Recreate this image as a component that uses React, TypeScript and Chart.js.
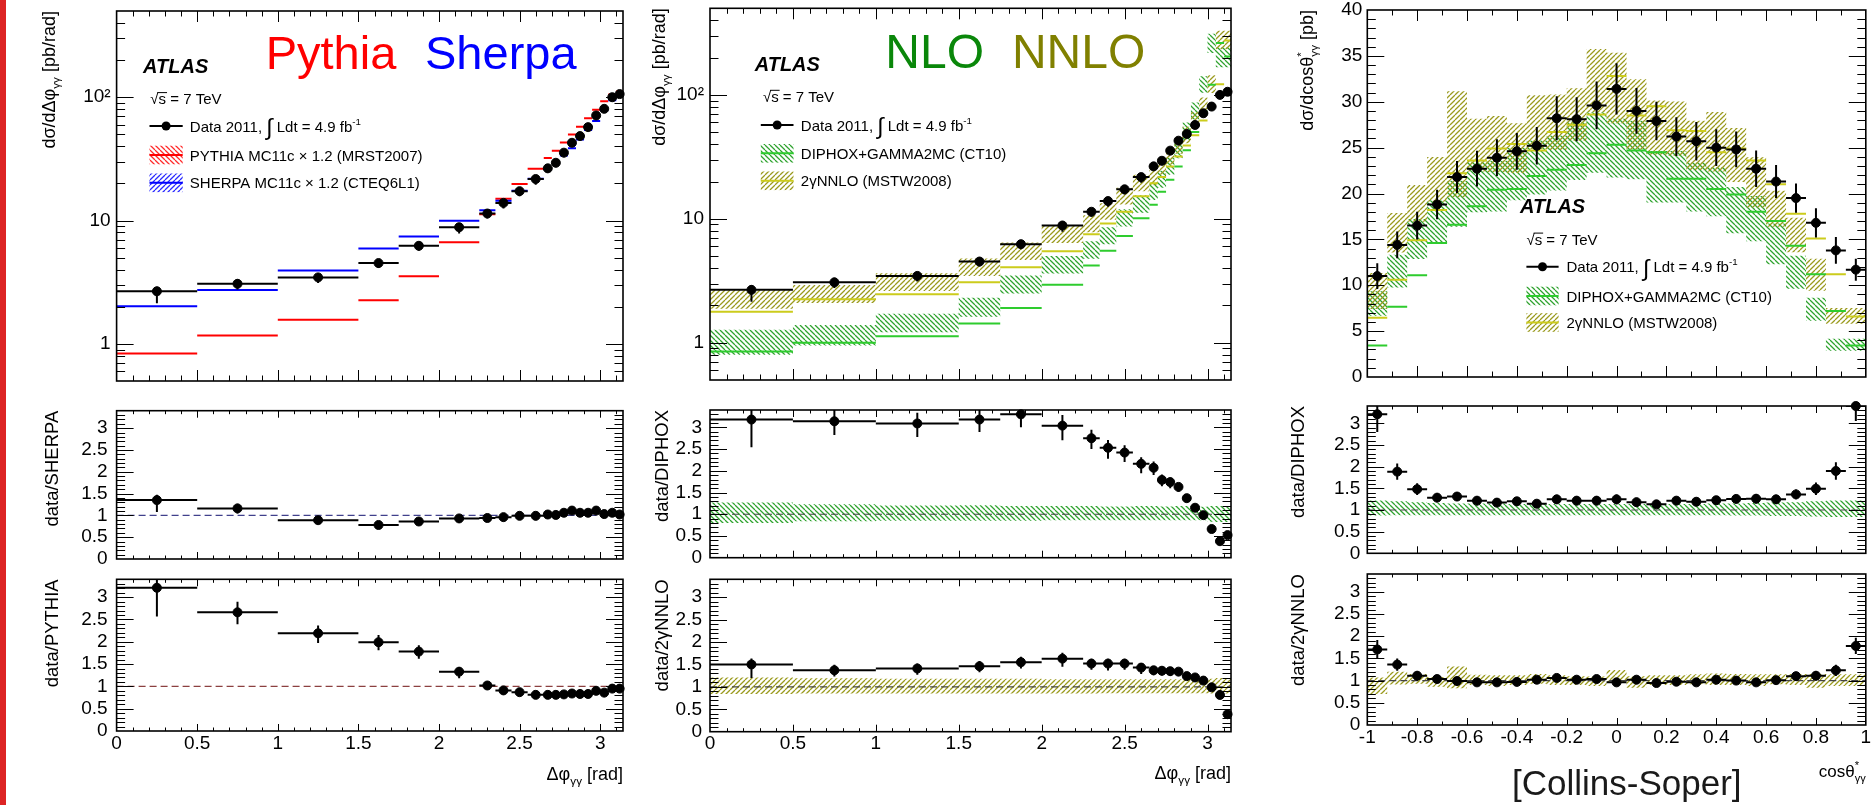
import { useEffect, useRef } from 'react';
import { Chart, registerables } from 'chart.js';

Chart.register(...registerables);

const W = 1876;
const H = 805;
const FONT = '"Liberation Sans", Arial, Helvetica, sans-serif';

// ---------- Δφγγ distribution (bin edges in rad) ----------
const phiEdges = [0, 0.5, 1, 1.5, 1.75, 2, 2.25, 2.35, 2.45, 2.55, 2.65, 2.7, 2.75, 2.8, 2.85, 2.9, 2.95, 3.0, 3.05, 3.1, Math.PI];
const phiData = [2.67, 3.07, 3.46, 4.52, 6.24, 8.83, 11.4, 13.9, 17.3, 21.7, 26.5, 29.4, 35.5, 42.7, 48.4, 57.2, 71.1, 80.5, 100, 106];
const phiErrUp = [0.09, 0.09, 0.08, 0.08, 0.08, 0.08, 0.07, 0.07, 0.07, 0.07, 0.07, 0.07, 0.06, 0.06, 0.06, 0.06, 0.06, 0.06, 0.06, 0.06];
const phiErrDn = [0.2, 0.1, 0.1, 0.09, 0.09, 0.11, 0.09, 0.1, 0.09, 0.1, 0.08, 0.08, 0.08, 0.07, 0.07, 0.07, 0.07, 0.07, 0.07, 0.07];
const phiPythia = [0.835, 1.17, 1.57, 2.26, 3.53, 6.68, 11.25, 15.0, 19.8, 26.3, 32.1, 36.8, 43.0, 49.9, 57.5, 67.6, 79.0, 92.9, 105, 112];
const phiSherpa = [2.02, 2.73, 3.94, 5.94, 7.42, 9.94, 12.1, 14.5, 17.4, 21.8, 26.0, 29.1, 33.6, 38.5, 45.5, 54.1, 64.0, 78.5, 94.6, 104];
const phiDiphox = [0.85, 1.0, 1.13, 1.43, 1.91, 2.93, 4.2, 5.53, 7.25, 10.1, 13.0, 16.5, 20.7, 26.4, 35.8, 50.2, 73.5, 121, 262, 204];
const phiNnlo = [1.78, 2.24, 2.46, 3.08, 4.06, 5.46, 7.52, 9.15, 11.4, 15.2, 19.4, 21.7, 26.4, 31.8, 39.0, 47.3, 62.2, 81.5, 122, 275];
const phiDiphoxUp = [0.32, 0.27, 0.23, 0.2, 0.21, 0.19, 0.19, 0.19, 0.18, 0.18, 0.19, 0.19, 0.18, 0.18, 0.19, 0.19, 0.18, 0.17, 0.19, 0.19];
const phiDiphoxDn = [0.24, 0.2, 0.16, 0.15, 0.15, 0.15, 0.14, 0.14, 0.14, 0.14, 0.14, 0.14, 0.14, 0.14, 0.14, 0.14, 0.14, 0.14, 0.17, 0.18];
const phiNnloUp = [0.22, 0.21, 0.19, 0.18, 0.18, 0.18, 0.17, 0.17, 0.17, 0.17, 0.17, 0.17, 0.17, 0.17, 0.17, 0.17, 0.17, 0.17, 0.18, 0.2];
const phiNnloDn = [0.22, 0.16, 0.15, 0.15, 0.15, 0.15, 0.15, 0.15, 0.14, 0.14, 0.14, 0.14, 0.14, 0.14, 0.14, 0.14, 0.14, 0.14, 0.15, 0.15];
const phiRatioSherpa = [1.35, 1.16, 0.89, 0.78, 0.86, 0.93, 0.94, 0.96, 0.99, 0.99, 1.02, 1.01, 1.06, 1.11, 1.06, 1.06, 1.11, 1.03, 1.06, 1.02];
const phiRatioPythia = [3.21, 2.66, 2.19, 1.99, 1.78, 1.33, 1.02, 0.91, 0.87, 0.81, 0.81, 0.81, 0.82, 0.84, 0.83, 0.83, 0.9, 0.86, 0.95, 0.95];
const phiRatioDiphox = [3.18, 3.14, 3.09, 3.18, 3.3, 3.04, 2.75, 2.53, 2.42, 2.16, 2.07, 1.79, 1.74, 1.63, 1.37, 1.15, 0.98, 0.66, 0.38, 0.52];
const phiRatioNnlo = [1.5, 1.37, 1.41, 1.46, 1.55, 1.63, 1.52, 1.52, 1.52, 1.43, 1.37, 1.36, 1.35, 1.34, 1.24, 1.21, 1.14, 0.99, 0.82, 0.39];

// ---------- cosθ*γγ distribution (Collins-Soper frame) ----------
const cosEdges = [-1, -0.92, -0.84, -0.76, -0.68, -0.6, -0.52, -0.44, -0.36, -0.28, -0.2, -0.12, -0.04, 0.04, 0.12, 0.2, 0.28, 0.36, 0.44, 0.52, 0.6, 0.68, 0.76, 0.84, 0.92, 1];
const cosData = [11.0, 14.4, 16.5, 18.8, 21.8, 22.7, 23.9, 24.6, 25.2, 28.2, 28.1, 29.6, 31.4, 29.0, 27.9, 26.2, 25.7, 25.0, 24.8, 22.7, 21.3, 19.5, 16.8, 13.8, 11.7];
const cosErr = [1.4, 1.45, 1.5, 1.6, 1.75, 1.95, 2.0, 2.0, 2.05, 2.4, 2.4, 2.6, 2.8, 2.5, 2.1, 2.1, 2.1, 2.0, 1.95, 2.0, 1.8, 1.6, 1.6, 1.45, 1.2];
const cosDiphox = [3.43, 7.66, 11.1, 14.6, 16.6, 18.6, 20.4, 20.5, 21.9, 22.6, 23.1, 24.4, 25.3, 24.7, 24.5, 21.6, 21.6, 20.5, 19.9, 18.0, 17.0, 14.3, 11.2, 7.2, 3.42];
const cosNnlo = [6.47, 10.6, 14.9, 18.2, 22.2, 23.6, 24.9, 25.4, 24.7, 26.7, 27.5, 28.6, 32.8, 28.5, 29.5, 26.9, 26.8, 24.5, 24.9, 23.6, 21.0, 17.8, 15.1, 11.2, 6.6];
const cosDiphoxUp = [0.22, 0.22, 0.2, 0.18, 0.16, 0.15, 0.15, 0.15, 0.14, 0.14, 0.14, 0.14, 0.14, 0.14, 0.14, 0.14, 0.14, 0.14, 0.15, 0.15, 0.16, 0.17, 0.18, 0.2, 0.22];
const cosDiphoxDn = [0.14, 0.13, 0.12, 0.12, 0.12, 0.12, 0.12, 0.12, 0.12, 0.12, 0.12, 0.12, 0.12, 0.12, 0.12, 0.12, 0.12, 0.12, 0.12, 0.13, 0.13, 0.14, 0.14, 0.15, 0.16];
const cosNnloUp = [0.17, 0.07, 0.2, 0.15, 0.08, 0.32, 0.13, 0.12, 0.12, 0.15, 0.12, 0.1, 0.09, 0.24, 0.1, 0.12, 0.12, 0.14, 0.16, 0.15, 0.14, 0.14, 0.15, 0.15, 0.14];
const cosNnloDn = [0.13, 0.3, 0.09, 0.07, 0.14, 0.17, 0.1, 0.12, 0.1, 0.07, 0.1, 0.1, 0.12, 0.03, 0.16, 0.1, 0.1, 0.08, 0.1, 0.1, 0.12, 0.08, 0.1, 0.16, 0.12];
const cosRatioDiphox = [3.21, 1.885, 1.48, 1.285, 1.31, 1.215, 1.17, 1.2, 1.145, 1.245, 1.215, 1.215, 1.245, 1.18, 1.13, 1.215, 1.19, 1.225, 1.255, 1.26, 1.245, 1.36, 1.49, 1.9, 3.4];
const cosRatioNnlo = [1.7, 1.36, 1.11, 1.035, 0.99, 0.96, 0.96, 0.97, 1.02, 1.06, 1.02, 1.035, 0.96, 1.02, 0.945, 0.975, 0.96, 1.02, 1.0, 0.96, 1.01, 1.1, 1.11, 1.23, 1.78];

// ---------- tick values and labels ----------
const phiTicks = [0, 0.5, 1, 1.5, 2, 2.5, 3];
const cosTicks = [-1, -0.8, -0.6, -0.4, -0.2, 0, 0.2, 0.4, 0.6, 0.8, 1];
const ratioTicks = [0, 0.5, 1, 1.5, 2, 2.5, 3];
const logTicks = [1, 10, 100];
const logTickLabels = ['1', '10', '10²'];
const xsecTicks = [0, 5, 10, 15, 20, 25, 30, 35, 40];
const logMinor = [0.6, 0.7, 0.8, 0.9, 2, 3, 4, 5, 6, 7, 8, 9, 20, 30, 40, 50, 60, 70, 80, 90, 200, 300, 400];

const range = (a: number, b: number, step: number) => {
  const out: number[] = [];
  for (let k = 0; a + k * step <= b + 1e-9; k++) out.push(+(a + k * step).toFixed(4));
  return out;
};
const phiMinor = range(0, 3.1, 0.1);
const cosMinor = range(-1, 1, 0.1);
const ratioMinor = range(0, 3.4, 0.1);
const xsecMinor = range(0, 40, 1);

const COL = {
  pythia: '#ff0000',
  sherpa: '#0000ff',
  diphox: '#2ecc2e',
  diphoxHatch: '#2fa32f',
  nnlo: '#cccc1c',
  nnloHatch: '#9a9a1e',
  nloText: '#0a870a',
  nnloText: '#808000',
};

// ---------- plot frames (page pixels) ----------
type Rect = { l: number; r: number; t: number; b: number };
const R11: Rect = { l: 116.6, r: 623, t: 11, b: 381 };
const R12: Rect = { l: 116.6, r: 623, t: 410.7, b: 559 };
const R13: Rect = { l: 116.6, r: 623, t: 579.3, b: 731 };
const R21: Rect = { l: 710, r: 1231, t: 8.3, b: 380 };
const R22: Rect = { l: 710, r: 1231, t: 410, b: 557.7 };
const R23: Rect = { l: 710, r: 1231, t: 579.3, b: 731.7 };
const R31: Rect = { l: 1367.3, r: 1865.8, t: 10, b: 377 };
const R32: Rect = { l: 1367.3, r: 1865.8, t: 406, b: 553.3 };
const R33: Rect = { l: 1367.3, r: 1865.8, t: 574, b: 725 };

// ---------- hatch patterns ----------
type Pats = { green: CanvasPattern; olive: CanvasPattern; red: CanvasPattern; blue: CanvasPattern };

function hatchTile(color: string, dir: '/' | '\\', pitch = 5, lw = 1.25) {
  const c = document.createElement('canvas');
  c.width = pitch;
  c.height = pitch;
  const g = c.getContext('2d')!;
  g.strokeStyle = color;
  g.lineWidth = lw;
  g.beginPath();
  for (const o of [-pitch, 0, pitch]) {
    if (dir === '/') {
      g.moveTo(o, pitch);
      g.lineTo(o + pitch, 0);
    } else {
      g.moveTo(o, 0);
      g.lineTo(o + pitch, pitch);
    }
  }
  g.stroke();
  return c;
}

function makePatterns(ctx: CanvasRenderingContext2D): Pats {
  const p = (color: string, dir: '/' | '\\') => ctx.createPattern(hatchTile(color, dir), 'repeat') as CanvasPattern;
  return {
    green: p(COL.diphoxHatch, '\\'),
    olive: p(COL.nnloHatch, '/'),
    red: p('#ff2a2a', '\\'),
    blue: p('#2a2aff', '/'),
  };
}

// ---------- series helpers ----------
type P = { x: number; y: number | null };
const mids = (e: number[]) => e.slice(0, -1).map((lo, i) => (lo + e[i + 1]) / 2);
const hSegs = (e: number[], v: number[]): P[] =>
  v.flatMap((y, i) => [{ x: e[i], y }, { x: e[i + 1], y }, { x: e[i + 1], y: null }]);
const vSegs = (xs: number[], lo: number[], hi: number[]): P[] =>
  xs.flatMap((x, i) => [{ x, y: lo[i] }, { x, y: hi[i] }, { x, y: null }]);
const steps = (e: number[], v: number[]): P[] => [
  ...v.map((y, i) => ({ x: e[i], y })),
  { x: e[e.length - 1], y: v[v.length - 1] },
];

const lineDs = (data: P[], color: string, width = 2, extra: any = {}) => ({
  data,
  borderColor: color,
  borderWidth: width,
  pointRadius: 0,
  fill: false,
  spanGaps: false,
  ...extra,
});

function dataDs(edges: number[], vals: number[], lo: number[], hi: number[]) {
  const xs = mids(edges);
  return [
    {
      data: xs.map((x, i) => ({ x, y: vals[i] })),
      showLine: false,
      pointRadius: 4.5,
      pointBackgroundColor: '#000',
      pointBorderColor: '#000',
      pointBorderWidth: 1,
      clip: false,
    },
    lineDs(hSegs(edges, vals), '#000', 2),
    lineDs(vSegs(xs, lo, hi), '#000', 2),
  ];
}

function bandDs(edges: number[], hi: number[], lo: number[], pat: CanvasPattern) {
  const base = { stepped: 'after', borderColor: 'rgba(0,0,0,0)', borderWidth: 1, pointRadius: 0 };
  return [
    { ...base, data: steps(edges, hi), fill: '+1', backgroundColor: pat },
    { ...base, data: steps(edges, lo), fill: false },
  ];
}

const scaleUp = (v: number[], r: number[]) => v.map((x, i) => x * (1 + r[i]));
const scaleDn = (v: number[], r: number[]) => v.map((x, i) => x * (1 - r[i]));
const onePlus = (r: number[]) => r.map((x) => 1 + x);
const oneMinus = (r: number[]) => r.map((x) => 1 - x);

// ---------- rich text ----------
type Seg = { t: string; k?: 'sub' | 'sup' | 'big'; noAdv?: boolean; over?: boolean };

function segMetrics(k: Seg['k'], size: number) {
  if (k === 'sub') return { s: size * 0.65, dy: size * 0.3 };
  if (k === 'sup') return { s: size * 0.65, dy: -size * 0.45 };
  if (k === 'big') return { s: size * 1.55, dy: size * 0.22 };
  return { s: size, dy: 0 };
}

function drawRich(
  ctx: CanvasRenderingContext2D,
  segs: Seg[],
  x: number,
  y: number,
  size: number,
  o: { align?: 'left' | 'right'; rot?: number; color?: string; weight?: string } = {},
) {
  ctx.save();
  ctx.translate(x, y);
  if (o.rot) ctx.rotate(o.rot);
  ctx.fillStyle = o.color ?? '#000';
  ctx.strokeStyle = o.color ?? '#000';
  ctx.textAlign = 'left';
  ctx.textBaseline = 'alphabetic';
  const font = (s: number) => `${o.weight ?? ''} ${s}px ${FONT}`;
  let total = 0;
  for (const g of segs) {
    ctx.font = font(segMetrics(g.k, size).s);
    if (!g.noAdv) total += ctx.measureText(g.t).width;
  }
  let cx = o.align === 'right' ? -total : 0;
  for (const g of segs) {
    const m = segMetrics(g.k, size);
    ctx.font = font(m.s);
    const w = ctx.measureText(g.t).width;
    ctx.fillText(g.t, cx, m.dy);
    if (g.over) {
      ctx.lineWidth = 1;
      ctx.beginPath();
      ctx.moveTo(cx - 1, -size * 0.76);
      ctx.lineTo(cx + w + 1, -size * 0.76);
      ctx.stroke();
    }
    if (!g.noAdv) cx += w;
  }
  ctx.restore();
}

const yTitle = (ctx: CanvasRenderingContext2D, segs: Seg[], x: number, yEnd: number, size = 18) =>
  drawRich(ctx, segs, x, yEnd, size, { align: 'right', rot: -Math.PI / 2 });

const T_phiY: Seg[] = [{ t: 'dσ/dΔφ' }, { t: 'γγ', k: 'sub' }, { t: ' [pb/rad]' }];
const T_cosY: Seg[] = [{ t: 'dσ/dcosθ' }, { t: '*', k: 'sup', noAdv: true }, { t: 'γγ', k: 'sub' }, { t: ' [pb]' }];
const T_phiX: Seg[] = [{ t: 'Δφ' }, { t: 'γγ', k: 'sub' }, { t: ' [rad]' }];
const T_cosX: Seg[] = [{ t: 'cosθ' }, { t: '*', k: 'sup', noAdv: true }, { t: 'γγ', k: 'sub' }];
const T_sqrt: Seg[] = [{ t: '√' }, { t: 's', over: true }, { t: ' = 7 TeV' }];
const T_data: Seg[] = [{ t: 'Data 2011, ' }, { t: '∫', k: 'big' }, { t: ' Ldt = 4.9 fb' }, { t: '-1', k: 'sup' }];

function legendData(ctx: CanvasRenderingContext2D, x0: number, x1: number, yc: number) {
  ctx.save();
  ctx.strokeStyle = '#000';
  ctx.lineWidth = 2;
  ctx.beginPath();
  ctx.moveTo(x0, yc);
  ctx.lineTo(x1, yc);
  ctx.stroke();
  ctx.fillStyle = '#000';
  ctx.beginPath();
  ctx.arc((x0 + x1) / 2, yc, 4.5, 0, Math.PI * 2);
  ctx.fill();
  ctx.restore();
}

function legendBox(ctx: CanvasRenderingContext2D, x0: number, x1: number, yc: number, pat: CanvasPattern, color: string) {
  ctx.save();
  ctx.fillStyle = pat;
  ctx.fillRect(x0, yc - 9.3, x1 - x0, 18.6);
  ctx.strokeStyle = color;
  ctx.lineWidth = 2;
  ctx.beginPath();
  ctx.moveTo(x0, yc);
  ctx.lineTo(x1, yc);
  ctx.stroke();
  ctx.restore();
}

function atlas(ctx: CanvasRenderingContext2D, x: number, y: number) {
  drawRich(ctx, [{ t: 'ATLAS' }], x, y, 20, { weight: 'italic bold' });
}

function theoryLegend(ctx: CanvasRenderingContext2D, p: Pats, x0: number, x1: number, tx: number, y: number[]) {
  legendData(ctx, x0, x1, y[0]);
  drawRich(ctx, T_data, tx, y[0] + 5.5, 15);
  legendBox(ctx, x0, x1, y[1], p.green, COL.diphox);
  drawRich(ctx, [{ t: 'DIPHOX+GAMMA2MC (CT10)' }], tx, y[1] + 5.5, 15);
  legendBox(ctx, x0, x1, y[2], p.olive, COL.nnlo);
  drawRich(ctx, [{ t: '2γNNLO (MSTW2008)' }], tx, y[2] + 5.5, 15);
}

// ---------- axes ----------
type AxisSpec = {
  type?: 'linear' | 'logarithmic';
  min: number;
  max: number;
  major: number[];
  minor: number[];
  majorLen: number;
  minorLen: number;
  labels?: (v: number) => string;
  font?: number;
  pad?: number;
};

const phiAxis = (labels: boolean, small: boolean): AxisSpec => ({
  min: 0,
  max: Math.PI,
  major: phiTicks,
  minor: phiMinor,
  majorLen: small ? 7 : 11,
  minorLen: small ? 3.5 : 5.5,
  labels: labels ? (v) => String(v) : undefined,
  pad: 1,
});
const cosAxis = (labels: boolean, small: boolean): AxisSpec => ({
  min: -1,
  max: 1,
  major: cosTicks,
  minor: cosMinor,
  majorLen: small ? 7 : 11,
  minorLen: small ? 3.5 : 5.5,
  labels: labels ? (v) => String(Math.round(v * 10) / 10).replace(/^-0$/, '0') : undefined,
  pad: 1,
});
const logAxis: AxisSpec = {
  type: 'logarithmic',
  min: 0.5,
  max: 500,
  major: logTicks,
  minor: logMinor,
  majorLen: 17,
  minorLen: 8.5,
  labels: (v) => logTickLabels[logTicks.indexOf(v)] ?? '',
  pad: 6,
};
const ratioAxis = (pad: number): AxisSpec => ({
  min: 0,
  max: 3.4,
  major: ratioTicks,
  minor: ratioMinor,
  majorLen: 17,
  minorLen: 8.5,
  labels: (v) => String(v),
  pad,
});
const xsecAxis: AxisSpec = {
  min: 0,
  max: 40,
  major: xsecTicks,
  minor: xsecMinor,
  majorLen: 17,
  minorLen: 8.5,
  labels: (v) => String(v),
  pad: 5,
};

function axisOpts(a: AxisSpec, kind: 'x' | 'y', size: number) {
  return {
    type: a.type ?? 'linear',
    position: kind === 'x' ? 'bottom' : 'left',
    min: a.min,
    max: a.max,
    grid: { display: false, drawTicks: false, tickLength: 0 },
    border: { display: false },
    ticks: {
      display: !!a.labels,
      autoSkip: false,
      maxRotation: 0,
      minRotation: 0,
      padding: a.pad ?? 8,
      color: '#000',
      font: { family: FONT, size: a.font ?? 19 },
      callback: (v: any) => (a.labels ? a.labels(Number(v)) : ''),
    },
    afterBuildTicks: (s: any) => {
      s.ticks = a.major.map((value) => ({ value }));
    },
    afterFit: (s: any) => {
      if (kind === 'x') s.height = size;
      else s.width = size;
      s.paddingLeft = 0;
      s.paddingRight = 0;
      s.paddingTop = 0;
      s.paddingBottom = 0;
    },
  };
}

function drawFrame(chart: any, xs: AxisSpec, ys: AxisSpec) {
  const { ctx, chartArea } = chart;
  const { left, right, top, bottom } = chartArea;
  const sx = chart.scales.x;
  const sy = chart.scales.y;
  ctx.save();
  ctx.strokeStyle = '#000';
  ctx.lineWidth = 1;
  ctx.beginPath();
  const xTicks = (vals: number[], len: number) => {
    for (const v of vals) {
      if (v <= xs.min || v >= xs.max) continue;
      const p = Math.round(sx.getPixelForValue(v)) + 0.5;
      ctx.moveTo(p, bottom);
      ctx.lineTo(p, bottom - len);
      ctx.moveTo(p, top);
      ctx.lineTo(p, top + len);
    }
  };
  const yTicks = (vals: number[], len: number) => {
    for (const v of vals) {
      if (v <= ys.min || v >= ys.max) continue;
      const p = Math.round(sy.getPixelForValue(v)) + 0.5;
      ctx.moveTo(left, p);
      ctx.lineTo(left + len, p);
      ctx.moveTo(right, p);
      ctx.lineTo(right - len, p);
    }
  };
  xTicks(xs.major, xs.majorLen);
  xTicks(xs.minor.filter((v) => !xs.major.some((m) => Math.abs(m - v) < 1e-6)), xs.minorLen);
  yTicks(ys.major, ys.majorLen);
  yTicks(ys.minor.filter((v) => !ys.major.some((m) => Math.abs(m - v) < 1e-6)), ys.minorLen);
  ctx.stroke();
  ctx.lineWidth = 1.6;
  ctx.strokeRect(left, top, right - left, bottom - top);
  ctx.restore();
}

function panel(rect: Rect, xs: AxisSpec, ys: AxisSpec, datasets: any[], overlay: (ctx: CanvasRenderingContext2D) => void) {
  const YW = 80;
  const XH = xs.labels ? 40 : 0;
  return {
    type: 'line',
    data: { datasets },
    options: {
      responsive: false,
      animation: false,
      devicePixelRatio: 1,
      events: [],
      layout: { padding: { left: rect.l - YW, right: W - rect.r, top: rect.t, bottom: H - rect.b - XH } },
      plugins: { legend: { display: false }, tooltip: { enabled: false }, title: { display: false } },
      elements: { line: { tension: 0 } },
      scales: { x: axisOpts(xs, 'x', XH), y: axisOpts(ys, 'y', YW) },
    },
    plugins: [
      {
        id: 'rootFrame',
        afterDraw(chart: any) {
          drawFrame(chart, xs, ys);
          overlay(chart.ctx);
        },
      },
    ],
  };
}

// ---------- the nine pads ----------
const refLine = (x0: number, x1: number, color: string) =>
  lineDs([{ x: x0, y: 1 }, { x: x1, y: 1 }], color, 1.2, { borderDash: [7, 4] });

const PANELS: ((p: Pats) => any)[] = [
  // Δφ cross section vs. PYTHIA / SHERPA
  (p) =>
    panel(
      R11,
      phiAxis(false, false),
      logAxis,
      [
        ...dataDs(phiEdges, phiData, scaleDn(phiData, phiErrDn), scaleUp(phiData, phiErrUp)),
        lineDs(hSegs(phiEdges, phiSherpa), COL.sherpa),
        lineDs(hSegs(phiEdges, phiPythia), COL.pythia),
      ],
      (ctx) => {
        ctx.save();
        ctx.fillStyle = '#dd2424';
        ctx.fillRect(0, 0, 6, H);
        ctx.restore();
        yTitle(ctx, T_phiY, 55, R11.t);
        drawRich(ctx, [{ t: 'Pythia' }], 265.7, 69, 47, { color: COL.pythia });
        drawRich(ctx, [{ t: 'Sherpa' }], 425, 69, 47, { color: COL.sherpa });
        atlas(ctx, 143.1, 73.3);
        drawRich(ctx, T_sqrt, 150.3, 104, 15);
        legendData(ctx, 149.5, 182.7, 126);
        drawRich(ctx, T_data, 189.8, 131.5, 15);
        legendBox(ctx, 149.5, 182.7, 155, p.red, COL.pythia);
        drawRich(ctx, [{ t: 'PYTHIA MC11c × 1.2 (MRST2007)' }], 189.8, 160.5, 15);
        legendBox(ctx, 149.5, 182.7, 182.8, p.blue, COL.sherpa);
        drawRich(ctx, [{ t: 'SHERPA MC11c × 1.2 (CTEQ6L1)' }], 189.8, 188.3, 15);
      },
    ),
  (p) =>
    panel(
      R12,
      phiAxis(false, true),
      ratioAxis(9),
      [
        ...dataDs(phiEdges, phiRatioSherpa, scaleDn(phiRatioSherpa, phiErrDn), scaleUp(phiRatioSherpa, phiErrUp)),
        refLine(0, Math.PI, '#40408c'),
      ],
      (ctx) => yTitle(ctx, [{ t: 'data/SHERPA' }], 58, R12.t, 18.5),
    ),
  (p) =>
    panel(
      R13,
      phiAxis(true, true),
      ratioAxis(9),
      [
        ...dataDs(phiEdges, phiRatioPythia, scaleDn(phiRatioPythia, phiErrDn), scaleUp(phiRatioPythia, phiErrUp)),
        refLine(0, Math.PI, '#8c4040'),
      ],
      (ctx) => {
        yTitle(ctx, [{ t: 'data/PYTHIA' }], 58, R13.t, 18.5);
        drawRich(ctx, T_phiX, R13.r, 780, 18, { align: 'right' });
      },
    ),
  // Δφ cross section vs. DIPHOX / 2γNNLO
  (p) =>
    panel(
      R21,
      phiAxis(false, false),
      logAxis,
      [
        ...dataDs(phiEdges, phiData, scaleDn(phiData, phiErrDn), scaleUp(phiData, phiErrUp)),
        lineDs(hSegs(phiEdges, phiDiphox), COL.diphox),
        lineDs(hSegs(phiEdges, phiNnlo), COL.nnlo),
        ...bandDs(phiEdges, scaleUp(phiNnlo, phiNnloUp), scaleDn(phiNnlo, phiNnloDn), p.olive),
        ...bandDs(phiEdges, scaleUp(phiDiphox, phiDiphoxUp), scaleDn(phiDiphox, phiDiphoxDn), p.green),
      ],
      (ctx) => {
        yTitle(ctx, T_phiY, 665, R21.t);
        drawRich(ctx, [{ t: 'NLO' }], 885.3, 67.5, 48, { color: COL.nloText });
        drawRich(ctx, [{ t: 'NNLO' }], 1011.9, 67.5, 48, { color: COL.nnloText });
        atlas(ctx, 754.7, 70.7);
        drawRich(ctx, T_sqrt, 762.9, 101.7, 15);
        theoryLegend(ctx, p, 760.8, 793.5, 800.8, [125, 153.3, 180.8]);
      },
    ),
  (p) =>
    panel(
      R22,
      phiAxis(false, true),
      ratioAxis(8),
      [
        ...dataDs(phiEdges, phiRatioDiphox, scaleDn(phiRatioDiphox, phiErrDn), scaleUp(phiRatioDiphox, phiErrUp)),
        refLine(0, Math.PI, '#444444'),
        ...bandDs(phiEdges, onePlus(phiDiphoxUp), oneMinus(phiDiphoxDn), p.green),
      ],
      (ctx) => yTitle(ctx, [{ t: 'data/DIPHOX' }], 668, R22.t, 18.5),
    ),
  (p) =>
    panel(
      R23,
      phiAxis(true, true),
      ratioAxis(8),
      [
        ...dataDs(phiEdges, phiRatioNnlo, scaleDn(phiRatioNnlo, phiErrDn), scaleUp(phiRatioNnlo, phiErrUp)),
        refLine(0, Math.PI, '#444444'),
        ...bandDs(phiEdges, onePlus(phiNnloUp), oneMinus(phiNnloDn), p.olive),
      ],
      (ctx) => {
        yTitle(ctx, [{ t: 'data/2γNNLO' }], 668, R23.t, 18.5);
        drawRich(ctx, T_phiX, R23.r, 779, 18, { align: 'right' });
      },
    ),
  // cosθ* cross section vs. DIPHOX / 2γNNLO
  (p) =>
    panel(
      R31,
      cosAxis(false, false),
      xsecAxis,
      [
        ...dataDs(cosEdges, cosData, cosData.map((v, i) => v - cosErr[i]), cosData.map((v, i) => v + cosErr[i])),
        lineDs(hSegs(cosEdges, cosDiphox), COL.diphox),
        lineDs(hSegs(cosEdges, cosNnlo), COL.nnlo),
        ...bandDs(cosEdges, scaleUp(cosNnlo, cosNnloUp), scaleDn(cosNnlo, cosNnloDn), p.olive),
        ...bandDs(cosEdges, scaleUp(cosDiphox, cosDiphoxUp), scaleDn(cosDiphox, cosDiphoxDn), p.green),
      ],
      (ctx) => {
        yTitle(ctx, T_cosY, 1313, R31.t);
        atlas(ctx, 1520, 213.3);
        drawRich(ctx, T_sqrt, 1526.4, 244.5, 15);
        theoryLegend(ctx, p, 1526.4, 1558.6, 1566.5, [266.7, 296, 322.5]);
      },
    ),
  (p) =>
    panel(
      R32,
      cosAxis(false, true),
      ratioAxis(7),
      [
        ...dataDs(
          cosEdges,
          cosRatioDiphox,
          cosRatioDiphox.map((r, i) => r * (1 - cosErr[i] / cosData[i])),
          cosRatioDiphox.map((r, i) => r * (1 + cosErr[i] / cosData[i])),
        ),
        refLine(-1, 1, '#444444'),
        ...bandDs(cosEdges, onePlus(cosDiphoxUp), oneMinus(cosDiphoxDn), p.green),
      ],
      (ctx) => yTitle(ctx, [{ t: 'data/DIPHOX' }], 1304, R32.t, 18.5),
    ),
  (p) =>
    panel(
      R33,
      cosAxis(true, true),
      ratioAxis(7),
      [
        ...dataDs(
          cosEdges,
          cosRatioNnlo,
          cosRatioNnlo.map((r, i) => r * (1 - cosErr[i] / cosData[i])),
          cosRatioNnlo.map((r, i) => r * (1 + cosErr[i] / cosData[i])),
        ),
        refLine(-1, 1, '#444444'),
        ...bandDs(cosEdges, onePlus(cosNnloUp), oneMinus(cosNnloDn), p.olive),
      ],
      (ctx) => {
        yTitle(ctx, [{ t: 'data/2γNNLO' }], 1304, R33.t, 18.5);
        drawRich(ctx, T_cosX, R33.r, 777, 17, { align: 'right' });
        drawRich(ctx, [{ t: '[Collins-Soper]' }], 1512, 795, 35, { color: '#1a1a1a' });
      },
    ),
];

export default function App() {
  const refs = useRef<(HTMLCanvasElement | null)[]>([]);

  useEffect(() => {
    const charts = PANELS.map((build, i) => {
      const cv = refs.current[i] as HTMLCanvasElement;
      const pats = makePatterns(cv.getContext('2d') as CanvasRenderingContext2D);
      return new Chart(cv, build(pats));
    });
    return () => charts.forEach((c) => c.destroy());
  }, []);

  return (
    <div style={{ position: 'absolute', left: 0, top: 0, width: W, height: H, background: '#fff', overflow: 'hidden' }}>
      {PANELS.map((_, i) => (
        <canvas
          key={i}
          ref={(el) => {
            refs.current[i] = el;
          }}
          width={W}
          height={H}
          style={{ position: 'absolute', left: 0, top: 0, width: W, height: H }}
        />
      ))}
    </div>
  );
}
